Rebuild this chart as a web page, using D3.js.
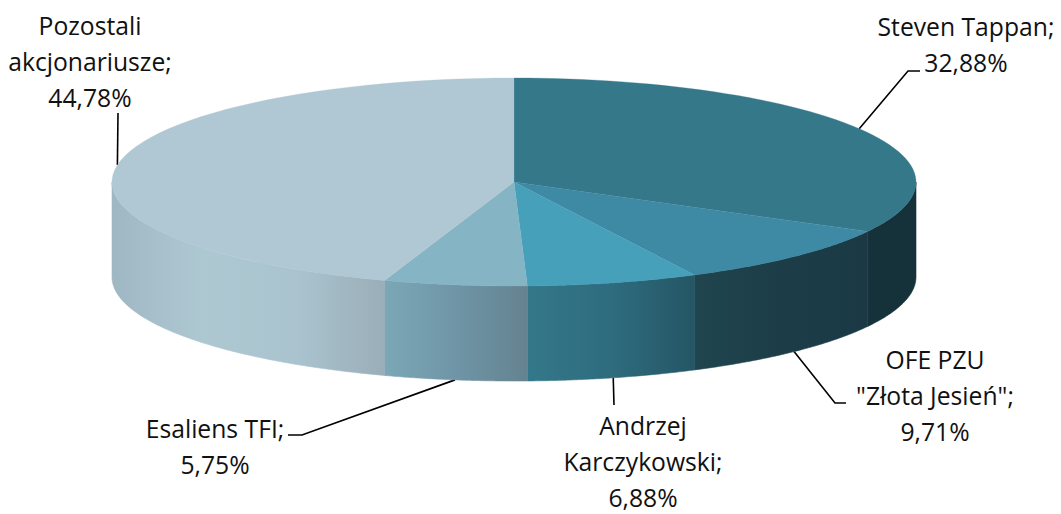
<!DOCTYPE html>
<html lang="pl">
<head>
<meta charset="utf-8">
<script src="https://d3js.org/d3.v7.min.js"></script>
<style>
	html, body { margin: 0; background: #fff; }
	svg { display: block; }
	text { font-family: "Open Sans", sans-serif; font-size: 24.7px; fill: #111; text-anchor: middle; }
</style>
</head>
<body>
<svg width="1061" height="514"></svg>
<script>
	// data, clockwise from 12 o'clock
	const categories = ['Steven Tappan', 'OFE PZU "Złota Jesień"', 'Andrzej Karczykowski', 'Esaliens TFI', 'Pozostali akcjonariusze'];
	const shares = [32.88, 9.71, 6.88, 5.75, 44.78];
	const labelLines = [
		['Steven Tappan;', '32,88%'],
		['OFE PZU', '"Złota Jesień";', '9,71%'],
		['Andrzej', 'Karczykowski;', '6,88%'],
		['Esaliens TFI;', '5,75%'],
		['Pozostali', 'akcjonariusze;', '44,78%']
	];

	// styles and layout
	const topColors = ['#35788a', '#3e89a3', '#46a0ba', '#85b4c4', '#afc8d3'];
	const wallStops = [
		['#15323b', '#15323b'],
		['#20454f', '#1c3d48', '#1a3945'],
		['#33788a', '#2e6c7e', '#255665'],
		['#7ba7b7', '#6f95a6', '#64838f'],
		['#9fb7c3', '#aec8d2', '#aac4cf', '#9aaeb8']
	];
	const labelX = [966, 935, 643, 215, 90];
	const labelY = [36, 369, 435, 438, 35];
	const lineHeight = 36;
	const elbows = [
		[[908, 71], [920, 71]],
		[[835, 403], [846, 403]],
		[[614, 405]],
		[[302, 435], [288, 435]],
		[[118, 113]]
	];

	const cx = 514, cy = 182, rx = 402, ry = 104, depth = 95;
	const x = d3.scaleLinear().domain([-1, 1]).range([cx - rx, cx + rx]);
	const y = d3.scaleLinear().domain([-1, 1]).range([cy - ry, cy + ry]);

	const svg = d3.select('svg');
	const defs = svg.append('defs');
	const slices = d3.pie().sort(null).value(d => d)(shares);

	const px = a => x(Math.sin(a));
	const py = a => y(-Math.cos(a));
	const line = d3.line();
	const sample = (a0, a1) => d3.range(0, 61).map(i => a0 + (a1 - a0) * i / 60);

	// leader lines go under the pie
	svg.append('g').selectAll('path')
		.data(slices)
		.join('path')
		.attr('fill', 'none')
		.attr('stroke', '#000')
		.attr('stroke-width', 1.6)
		.attr('d', (d, i) => {
			const mid = (d.startAngle + d.endAngle) / 2;
			const onFront = Math.cos(mid) < 0;
			return line([[px(mid), py(mid) + (onFront ? depth : 0)], ...elbows[i]]);
		});

	// walls: only the part of each slice facing the viewer (90deg to 270deg)
	const front = slices.map(d => ({
		a0: Math.max(d.startAngle, Math.PI / 2),
		a1: Math.min(d.endAngle, Math.PI * 1.5)
	}));

	front.forEach((f, i) => {
		const grad = defs.append('linearGradient')
			.attr('id', 'wall' + i)
			.attr('gradientUnits', 'userSpaceOnUse')
			.attr('x1', Math.min(px(f.a0), px(f.a1))).attr('x2', Math.max(px(f.a0), px(f.a1)))
			.attr('y1', 0).attr('y2', 0);
		// stops are listed left to right on screen
		wallStops[i].forEach((c, j) => grad.append('stop')
			.attr('offset', j / Math.max(1, wallStops[i].length - 1))
			.attr('stop-color', c));
	});

	svg.append('g').selectAll('path')
		.data(front)
		.join('path')
		.attr('fill', (d, i) => `url(#wall${i})`)
		.attr('stroke', (d, i) => `url(#wall${i})`)
		.attr('stroke-width', 0.6)
		.attr('d', d => {
			const pts = sample(d.a0, d.a1);
			const upper = pts.map(a => [px(a), py(a)]);
			const lower = pts.map(a => [px(a), py(a) + depth]).reverse();
			return line(upper.concat(lower)) + 'Z';
		});

	// top face
	svg.append('g').selectAll('path')
		.data(slices)
		.join('path')
		.attr('fill', (d, i) => topColors[i])
		.attr('stroke', (d, i) => topColors[i])
		.attr('stroke-width', 0.3)
		.attr('d', d => line([[x(0), y(0)], ...sample(d.startAngle, d.endAngle).map(a => [px(a), py(a)])]) + 'Z');

	// labels
	svg.append('g').selectAll('text')
		.data(labelLines)
		.join('text')
		.attr('x', (d, i) => labelX[i])
		.attr('y', (d, i) => labelY[i])
		.selectAll('tspan')
		.data(d => d)
		.join('tspan')
		.attr('x', function () { return d3.select(this.parentNode).attr('x'); })
		.attr('dy', (d, j) => j ? lineHeight : 0)
		.text(d => d);
</script>
</body>
</html>
